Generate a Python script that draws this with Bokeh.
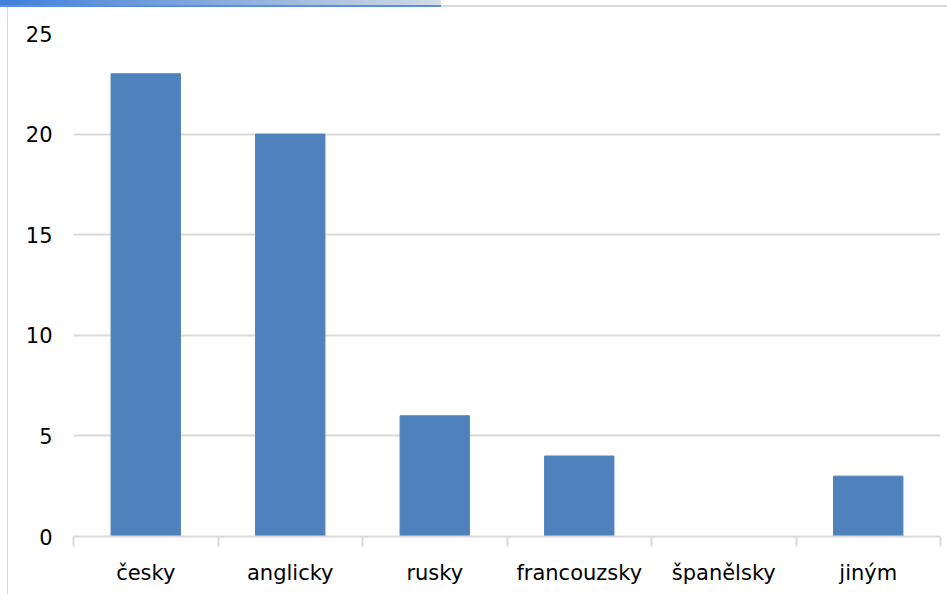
from bokeh.plotting import figure
from bokeh.models import Range1d, FixedTicker, ColumnDataSource
from bokeh.embed import file_html
from bokeh.resources import INLINE

# Languages and counts
languages = ["česky", "anglicky", "rusky", "francouzsky", "španělsky", "jiným"]
counts = [23, 20, 6, 4, 0, 3]
y_ticks = [0, 5, 10, 15, 20, 25]

FONT = "DejaVu Sans"
BAR = "#4f81bd"
GRID = "#d9d9d9"

positions = [i + 0.5 for i in range(len(languages))]
source = ColumnDataSource(dict(x=positions, top=counts, name=languages))

p = figure(
    width=947, height=594,
    x_range=Range1d(0, len(languages)), y_range=Range1d(0, 25),
    output_backend="svg", toolbar_location=None,
    min_border_left=73, min_border_right=7, min_border_top=33, min_border_bottom=58,
)
p.border_fill_alpha = 0
p.outline_line_color = None
p.background_fill_color = "white"
# chart-frame edges: blue header stripe, top rule and left rule
p.styles = {
    "background": (
        "linear-gradient(to right, #3f7fdc, #8fb0dd 55%, #d3dbe6) 0 0 / 441px 5px no-repeat, "
        "linear-gradient(#5b8fd6, #5b8fd6) 0 5px / 441px 2px no-repeat, "
        "linear-gradient(#d9d9d9, #d9d9d9) 441px 5px / 100% 2px no-repeat, "
        "linear-gradient(#d9d9d9, #d9d9d9) 7px 7px / 1px 100% no-repeat, "
        "#ffffff"
    )
}

p.vbar(x="x", top="top", width=0.48, source=source, color=BAR)

# category axis: labels at centres, ticks at category boundaries
xa = p.xaxis[0]
xa.ticker = FixedTicker(ticks=positions, minor_ticks=list(range(len(languages) + 1)))
xa.major_label_overrides = {pos: name for pos, name in zip(positions, languages)}
xa.major_tick_line_color = None
xa.major_tick_out = 0
xa.major_tick_in = 0
xa.minor_tick_line_color = GRID
xa.minor_tick_line_width = 2
xa.minor_tick_out = 10
xa.minor_tick_in = 0
xa.axis_line_color = GRID
xa.axis_line_width = 2
xa.major_label_text_font = FONT
xa.major_label_text_font_size = "21px"
xa.major_label_text_color = "#000000"
xa.major_label_standoff = 14

ya = p.yaxis[0]
ya.ticker = FixedTicker(ticks=y_ticks)
ya.axis_line_color = None
ya.major_tick_line_color = None
ya.minor_tick_line_color = None
ya.major_tick_out = 0
ya.major_label_text_font = FONT
ya.major_label_text_font_size = "21px"
ya.major_label_text_color = "#000000"
ya.major_label_standoff = 21

p.xgrid.grid_line_color = None
p.ygrid.ticker = FixedTicker(ticks=y_ticks)
p.ygrid.grid_line_color = GRID
p.ygrid.grid_line_width = 2

open("out.html", "w").write(file_html(p, INLINE))
